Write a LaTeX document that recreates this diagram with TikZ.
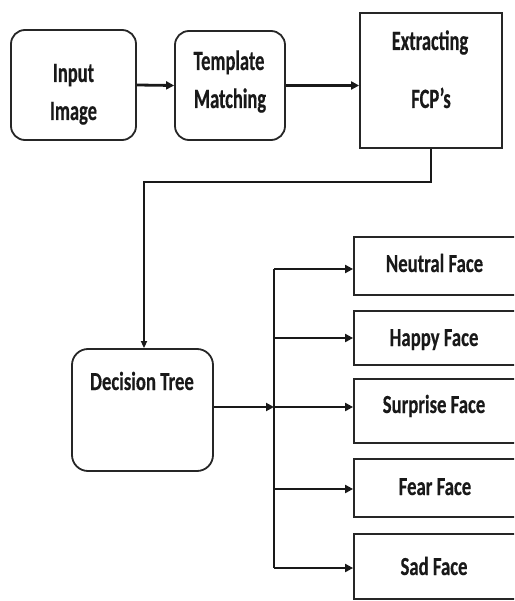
\documentclass[tikz,border=0pt]{standalone}
\usepackage{fontspec}
\newfontfamily\topfont[FakeStretch=0.66,FakeBold=0.4]{Carlito}
\newfontfamily\facefont[FakeStretch=0.72,FakeBold=0.4]{Carlito}
\usetikzlibrary{arrows.meta}
\begin{document}
\begin{tikzpicture}[x=1pt,y=-1pt,
  rbox/.style={draw=black!85, line width=1.8pt, rounded corners=14pt, inner sep=0pt},
  sbox/.style={draw=black!85, line width=1.8pt, inner sep=0pt},
  toptxt/.style={font=\topfont\bfseries\fontsize{28}{30}\selectfont, anchor=base, inner sep=0pt, text=black!90},
  facetxt/.style={font=\facefont\bfseries\fontsize{26}{28}\selectfont, anchor=base, inner sep=0pt, text=black!90},
  thickarrow/.style={-{Triangle[length=8pt,width=8pt]}, line width=2.8pt, draw=black!90},
  thinline/.style={line width=1.6pt, draw=black!90},
]
\useasboundingbox (0,0) rectangle (514,601);
\clip (0,0) rectangle (514,601);

% top row boxes
\node[rbox, minimum width=125pt, minimum height=110pt] (inp) at (73.5,85) {};
\node[rbox, minimum width=110pt, minimum height=109pt] (tmp) at (230,85.5) {};
\node[sbox, minimum width=142pt, minimum height=135pt] (ext) at (431,80.5) {};

\node[toptxt] (inpA) at (73.5,82) {Input};
\node[toptxt] (inpB) at (73.5,120) {Image};
\node[toptxt] (tmpA) at (229,70) {Template};
\node[toptxt] (tmpB) at (230,108) {Matching};
\node[toptxt] (extA) at (430,50) {Extracting};
\node[toptxt] (extB) at (431,108) {FCP’s};

% decision tree
\node[rbox, rounded corners=16pt, minimum width=141pt, minimum height=122pt] (dec) at (142.5,410) {};
\node[facetxt] (decA) at (142,390) {Decision Tree};

% face boxes
\node[sbox, minimum width=162pt, minimum height=58pt] (nf) at (435,266) {};
\node[sbox, minimum width=162pt, minimum height=54pt] (hf) at (435,338) {};
\node[sbox, minimum width=162pt, minimum height=64pt] (sf) at (435,411) {};
\node[sbox, minimum width=162pt, minimum height=58pt] (ff) at (435,488) {};
\node[sbox, minimum width=162pt, minimum height=65pt] (df) at (435,566.5) {};

\node[facetxt] (nfA) at (434.5,272) {Neutral Face};
\node[facetxt] (hfA) at (434,346) {Happy Face};
\node[facetxt] (sfA) at (434,413) {Surprise Face};
\node[facetxt] (ffA) at (435,495) {Fear Face};
\node[facetxt] (dfA) at (434,575) {Sad Face};

% connectors
\draw[thickarrow] (inp.east) -- (tmp.west);
\draw[thickarrow] (tmp.east) -- (tmp.east -| ext.west);

\coordinate (bend) at (144,182);
\draw[thinline, -{Triangle[length=7pt,width=6pt]}] (ext.south) |- (bend) -- (bend |- dec.north);

\coordinate (bus) at (274,407);
\coordinate (bN) at (274,269);
\coordinate (bH) at (274,338);
\coordinate (bF) at (274,489);
\coordinate (bD) at (274,568);

\draw[thickarrow] (dec.east |- bus) -- (bus);
\draw[thinline] (bN) -- (bD);
\draw[thickarrow] (bN) -- (bN -| nf.west);
\draw[thickarrow] (bH) -- (bH -| hf.west);
\draw[thickarrow] (bus) -- (bus -| sf.west);
\draw[thickarrow] (bF) -- (bF -| ff.west);
\draw[thickarrow] (bD) -- (bD -| df.west);
\end{tikzpicture}
\end{document}
